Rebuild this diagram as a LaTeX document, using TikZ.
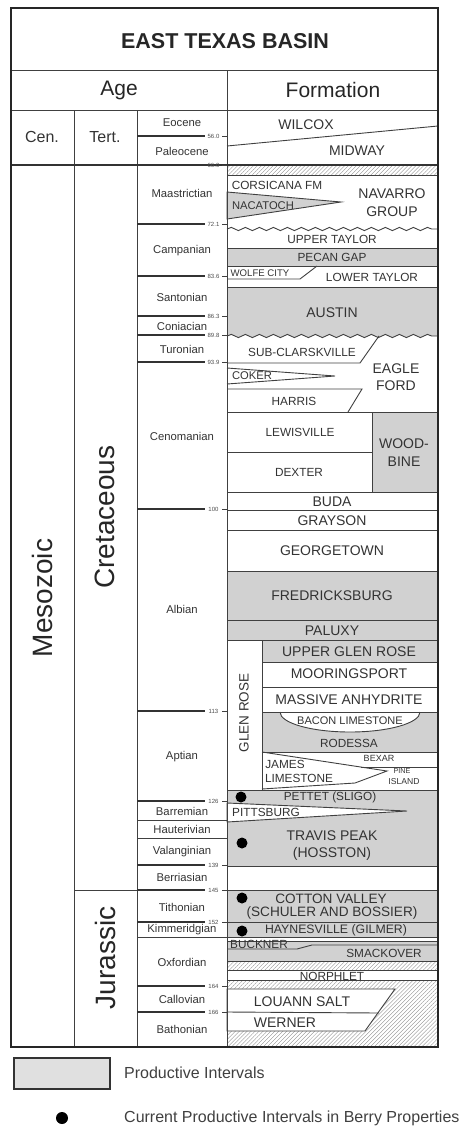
\documentclass[tikz,border=0pt]{standalone}
\usepackage{fontspec}
\setmainfont{Liberation Sans}
\usetikzlibrary{patterns.meta,decorations.pathmorphing}
\begin{document}
\begin{tikzpicture}[x=1pt,y=-1pt,
  frm/.style={line width=1.7pt, draw=black!85},
  ln/.style={line width=0.9pt, draw=black!75},
  bnd/.style={line width=1.6pt, draw=black!80},
  prod/.style={fill=black!18},
  hatch/.style={pattern={Lines[angle=45,distance=2.8pt,line width=0.35pt]}, pattern color=black!45},
  wavy/.style={decorate, decoration={snake,amplitude=1.6pt,segment length=14pt}},
  stg/.style={font=\fontsize{11.3}{12}\selectfont, text=black!80, inner sep=0pt},
  fm/.style={font=\fontsize{14}{15}\selectfont, text=black!80, inner sep=0pt},
  fms/.style={font=\fontsize{11.8}{13}\selectfont, text=black!80, inner sep=0pt},
  num/.style={font=\fontsize{6}{7}\selectfont, text=black!70, inner sep=0pt},
  pdot/.style={circle, fill=black, minimum size=11pt, inner sep=0pt},
  big/.style={font=\fontsize{28}{30}\selectfont, text=black!85, inner sep=0pt, rotate=90},
]
\useasboundingbox (0,0) rectangle (467,1128);

% ---------- productive (gray) fills ----------
\fill[prod] (227,248) rectangle (438,266);
\fill[prod] (227,336) decorate[wavy]{-- (438,336)} -- (438,287) -- (227,287) -- cycle;
\fill[prod] (372,412) rectangle (438,492);
\fill[prod] (227,571) rectangle (438,640);
\fill[prod] (262,640) rectangle (438,662);
\fill[prod] (262,712) rectangle (438,752);
\fill[prod] (227,790) rectangle (438,866);
\fill[prod] (227,890) rectangle (438,937);
\fill[prod] (227,941) rectangle (438,961);
\filldraw[prod, ln] (227,192) -- (341,202) -- (227,219) -- cycle;

% ---------- hatched ----------
\fill[hatch] (227,165) rectangle (438,175);
\fill[hatch] (227,961) rectangle (438,970);
\fill[hatch] (227,980) rectangle (438,1047);

% ---------- white bodies ----------
\filldraw[fill=white, ln] (280,712) arc[start angle=180, end angle=0, x radius=70, y radius=20];
\filldraw[fill=white, ln] (227,803) -- (407,811) -- (227,822) -- cycle;
\filldraw[fill=white, ln] (227,989) -- (395,989) -- (365,1031) -- (227,1031) -- cycle;
\draw[ln] (227,1012) -- (379,1013);

% ---------- grid ----------
\draw[ln] (11,70) -- (438,70);
\draw[ln] (11,110) -- (438,110);
\draw[ln] (227,70) -- (227,1047);
\draw[ln] (74,110) -- (74,1047);
\draw[ln] (137,110) -- (137,1047);
\draw[bnd] (11,165) -- (438,165);
\draw[ln] (74,890) -- (137,890);

% stage boundaries
\foreach \yy/\lab in {136/56.0,165/66.0,224/72.1,276/83.6,316/86.3,335/89.8,362/93.9,509/100,711/113,801/126,865/139,890/145,922/152,986/164,1012/166}{
  \draw[bnd] (137,\yy) -- (205,\yy);
  \node[num] (n\yy) at (213.5,\yy) {\lab};
  \draw[ln] (222,\yy) -- (227,\yy);
}
\foreach \yy in {820,838,937}{ \draw[ln] (137,\yy) -- (227,\yy); }

% ---------- formation lines ----------
\draw[ln] (227,146) -- (438,126);
\draw[ln] (227,175) -- (438,175);
\draw[ln] (227,229) decorate[wavy]{-- (438,229)};
\draw[ln] (227,248) -- (438,248);
\draw[ln] (227,266) -- (438,266);
\draw[ln] (227,279) -- (300,279) -- (317,266);
\draw[ln] (227,287) -- (438,287);
\draw[ln] (227,336) decorate[wavy]{-- (438,336)};
\draw[ln] (227,363) -- (360,363) -- (379,336);
\draw[ln] (227,368) -- (335,376) -- (227,384);
\draw[ln] (227,389) -- (362,389) -- (348,412);
\draw[ln] (227,412) -- (438,412);
\draw[ln] (372,412) -- (372,492);
\draw[ln] (227,452) -- (372,452);
\foreach \yy in {492,510,530,571,620,640}{ \draw[ln] (227,\yy) -- (438,\yy); }
\draw[ln] (262,640) -- (262,790);
\foreach \yy in {662,687,712,752}{ \draw[ln] (262,\yy) -- (438,\yy); }
\draw[ln] (262,752) -- (387,771) -- (355,783) -- (262,789);
\draw[ln] (361,767) -- (438,767);
\draw[ln] (227,790) -- (438,790);
\foreach \yy in {866,890,922,937,941,961,970,980}{ \draw[ln] (227,\yy) -- (438,\yy); }
\draw[ln] (227,949) -- (297,949) -- (312,945) -- (438,945);

% ---------- frame ----------
\draw[frm] (11,8) rectangle (438,1047);

% ---------- header text ----------
\node[font=\fontsize{21.5}{23}\bfseries, text=black!85] (title) at (225,41) {EAST TEXAS BASIN};
\node[font=\fontsize{21}{23}\selectfont, text=black!85] (hage) at (119,90) {Age};
\node[font=\fontsize{21}{23}\selectfont, text=black!85] (hform) at (333,90) {Formation};
\node[font=\fontsize{16}{18}\selectfont, text=black!80] (cen) at (42,137) {Cen.};
\node[font=\fontsize{16}{18}\selectfont, text=black!80] (tert) at (105,137) {Tert.};
\node[big] (meso) at (42,598) {Mesozoic};
\node[big] (cret) at (105,517) {Cretaceous};
\node[big] (jur) at (105,958) {Jurassic};

% ---------- stages ----------
\foreach \yy/\lab in {123/Eocene,151/Paleocene,193/Maastrictian,251/Campanian,297/Santonian,326/Coniacian,349/Turonian,436/Cenomanian,609/Albian,757/Aptian,811/Barremian,829/Hauterivian,852/Valanginian,877/Berriasian,907/Tithonian,930/Kimmeridgian,962/Oxfordian,999/Callovian,1029/Bathonian}{
  \node[stg] (s\yy) at (182,\yy) {\lab};
}

% ---------- formations ----------
\node[fm] (wil) at (306,125) {WILCOX};
\node[fm] (mid) at (357,151) {MIDWAY};
\node[fms] (cors) at (277,185) {CORSICANA FM};
\node[fms, font=\fontsize{11.2}{12}\selectfont] (naca) at (263,206) {NACATOCH};
\node[fm] (nav1) at (392,194) {NAVARRO};
\node[fm] (nav2) at (392,212) {GROUP};
\node[fms] (uta) at (332,239) {UPPER TAYLOR};
\node[fms] (pec) at (332,257) {PECAN GAP};
\node[fms, font=\fontsize{9.6}{10}\selectfont] (wol) at (260,273) {WOLFE CITY};
\node[fms] (lta) at (372,277) {LOWER TAYLOR};
\node[fm] (aus) at (332,313) {AUSTIN};
\node[fms] (sub) at (302,352) {SUB-CLARSKVILLE};
\node[fms, font=\fontsize{11.2}{12}\selectfont] (cok) at (252,376) {COKER};
\node[fms] (har) at (294,401) {HARRIS};
\node[fm] (ef1) at (396,369) {EAGLE};
\node[fm] (ef2) at (396,386) {FORD};
\node[fms] (lew) at (300,432) {LEWISVILLE};
\node[fms] (dex) at (299,472) {DEXTER};
\node[fm] (wb1) at (404,444) {WOOD-};
\node[fm] (wb2) at (404,462) {BINE};
\node[fm] (bud) at (332,502) {BUDA};
\node[fm] (gra) at (332,521) {GRAYSON};
\node[fm] (geo) at (332,551) {GEORGETOWN};
\node[fm] (fre) at (332,596) {FREDRICKSBURG};
\node[fm] (pal) at (332,631) {PALUXY};
\node[fm] (ugr) at (349,652) {UPPER GLEN ROSE};
\node[fm] (moo) at (349,674) {MOORINGSPORT};
\node[fm] (mas) at (349,700) {MASSIVE ANHYDRITE};
\node[fms, font=\fontsize{11}{12}\selectfont] (bac) at (350,721) {BACON LIMESTONE};
\node[fms] (rod) at (349,743) {RODESSA};
\node[fms, font=\fontsize{9}{10}\selectfont] (bex) at (379,758) {BEXAR};
\node[fms] (jam1) at (285,764) {JAMES};
\node[fms] (jam2) at (299,778) {LIMESTONE};
\node[fms, font=\fontsize{7.2}{8}\selectfont] (pin1) at (402,771) {PINE};
\node[fms, font=\fontsize{8.6}{9}\selectfont] (pin2) at (404,782) {ISLAND};
\node[font=\fontsize{13.5}{14}\selectfont, text=black!80, rotate=90, inner sep=0pt] (glen) at (244,713) {GLEN ROSE};
\node[fms] (pet) at (330,797) {PETTET (SLIGO)};
\node[fms] (pit) at (266,812) {PITTSBURG};
\node[fm] (tra1) at (332,836) {TRAVIS PEAK};
\node[fm] (tra2) at (332,854) {(HOSSTON)};
\node[fm, font=\fontsize{13.6}{15}\selectfont] (cot1) at (331,899) {COTTON VALLEY};
\node[fm, font=\fontsize{13.6}{15}\selectfont] (cot2) at (332,913) {(SCHULER AND BOSSIER)};
\node[fms, font=\fontsize{12.3}{13}\selectfont] (hay) at (336,930) {HAYNESVILLE (GILMER)};
\node[fms] (buc) at (259,944) {BUCKNER};
\node[fms] (sma) at (384,953) {SMACKOVER};
\node[fms] (nor) at (332,976) {NORPHLET};
\node[fm] (lou) at (302,1002) {LOUANN SALT};
\node[fm] (wer) at (285,1023) {WERNER};

% ---------- dots ----------
\node[pdot] (d1) at (241,797) {};
\node[pdot] (d2) at (242,843) {};
\node[pdot] (d3) at (242,898) {};
\node[pdot] (d4) at (242,931) {};

% ---------- legend ----------
\node[draw=black!80, line width=1.3pt, fill=black!12, minimum width=96pt, minimum height=31pt, inner sep=0pt] (lbox) at (62,1073.5) {};
\node[anchor=west, font=\fontsize{16}{18}\selectfont, text=black!75, inner sep=0pt] (ltxt1) at (124,1073) {Productive Intervals};
\node[pdot, minimum size=12pt] (ldot) at (62,1118) {};
\node[anchor=west, font=\fontsize{16}{18}\selectfont, text=black!75, inner sep=0pt] (ltxt2) at (124,1118) {Current Productive Intervals in Berry Properties};
\end{tikzpicture}
\end{document}
